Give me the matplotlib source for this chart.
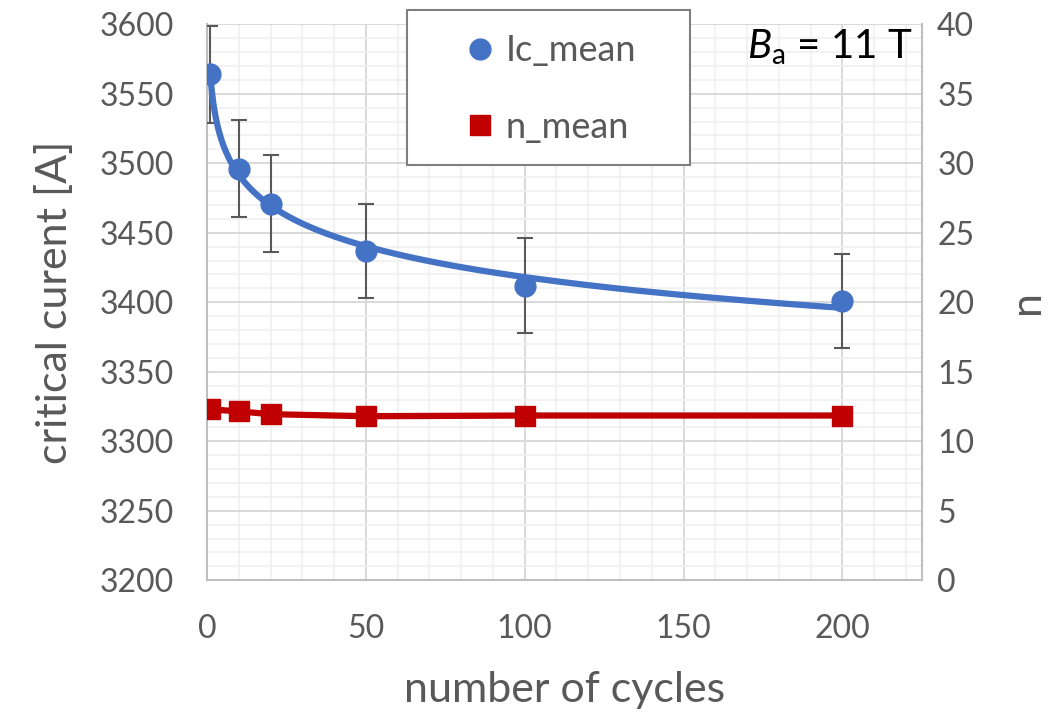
import numpy as np
import matplotlib
matplotlib.use('Agg')
import matplotlib.pyplot as plt
from matplotlib.patches import Rectangle
from matplotlib.ticker import MultipleLocator

plt.rcParams['font.family'] = ['Lato', 'DejaVu Sans']
plt.rcParams['mathtext.fontset'] = 'custom'
plt.rcParams['mathtext.rm'] = 'Lato'
plt.rcParams['mathtext.it'] = 'Lato:italic'

# data
cycles = [1, 10, 20, 50, 100, 200]
ic_mean = [3564, 3496, 3471, 3437, 3412, 3401]
ic_err = [35, 35, 35, 34, 34, 34]
n_mean = [12.3, 12.15, 11.95, 11.8, 11.85, 11.85]

GREY = '#595959'
BLUE = '#4472c4'
RED = '#c00000'
W, H = 1056, 712

fig = plt.figure(figsize=(W / 100, H / 100), dpi=100)
ax = fig.add_axes([0.196, 0.185, 0.677, 0.781])
ax2 = ax.twinx()

# gridlines
ax.set_xlim(0, 225)
ax.set_ylim(3200, 3600)
ax2.set_ylim(0, 40)
ax.xaxis.set_major_locator(MultipleLocator(50))
ax.xaxis.set_minor_locator(MultipleLocator(10))
ax.yaxis.set_major_locator(MultipleLocator(50))
ax.yaxis.set_minor_locator(MultipleLocator(10))
ax2.yaxis.set_major_locator(MultipleLocator(5))
ax.grid(which='minor', color='#f0f0f0', lw=1.2, zorder=0)
ax.grid(which='major', color='#d9d9d9', lw=1.4, zorder=0)
ax.set_axisbelow(True)

for a in (ax, ax2):
    for s in a.spines.values():
        s.set_visible(False)
    a.tick_params(which='both', length=0, labelsize=23, labelcolor=GREY)
ax.tick_params(axis='y', pad=24)
ax.tick_params(axis='x', pad=24)
ax2.tick_params(axis='y', pad=11)
ax.spines['left'].set_visible(True)
ax.spines['bottom'].set_visible(True)
ax2.spines['right'].set_visible(True)
for s in (ax.spines['left'], ax.spines['bottom'], ax2.spines['right']):
    s.set_color('#bfbfbf')
    s.set_linewidth(1.5)

# Ic with log trendline
ax.errorbar(cycles, ic_mean, yerr=ic_err, fmt='none', ecolor='#595959',
            elinewidth=1.5, capsize=6, capthick=1.5, zorder=3)
coef = np.polyfit(np.log(cycles), ic_mean, 1)
xs = np.linspace(min(cycles), max(cycles), 400)
ax.plot(xs, coef[1] + coef[0] * np.log(xs), color=BLUE, lw=4.5, zorder=4)
ax.plot(cycles, ic_mean, 'o', color=BLUE, ms=15, zorder=5)

# n
ax2.plot(cycles, n_mean, '-', color=RED, lw=4.5, zorder=4)
ax2.plot(cycles, n_mean, 's', color=RED, ms=14, zorder=5)

ax.set_xlabel('number of cycles', fontsize=31, color=GREY, labelpad=20)
ax.set_ylabel('critical curent [A]', fontsize=31, color=GREY, labelpad=18)
ax2.set_ylabel('n', fontsize=31, color=GREY, labelpad=24, rotation=90)

# legend: box drawn separately, entries without frame
box = Rectangle((407 / W, 1 - 165 / H), 283 / W, 155 / H, transform=fig.transFigure,
                facecolor='white', edgecolor='#7f7f7f', lw=1.5, zorder=9)
fig.patches.append(box)
h1, = ax.plot([], [], 'o', color=BLUE, ms=15)
h2, = ax.plot([], [], 's', color=RED, ms=14)
leg = fig.legend([h1, h2], ['Ic_mean', 'n_mean'], loc='center left',
                 bbox_to_anchor=(462 / W, 1 - 89 / H), fontsize=26,
                 labelcolor=GREY, frameon=False, handletextpad=0.2,
                 labelspacing=1.2, borderpad=0, borderaxespad=0,
                 handlelength=1.0)
leg.set_zorder(10)

fig.text(912 / W, 1 - 47 / H, r'$B_\mathrm{a}$ = 11 T', fontsize=29,
         color='black', ha='right', va='center')

fig.savefig('out.png', dpi=100)
